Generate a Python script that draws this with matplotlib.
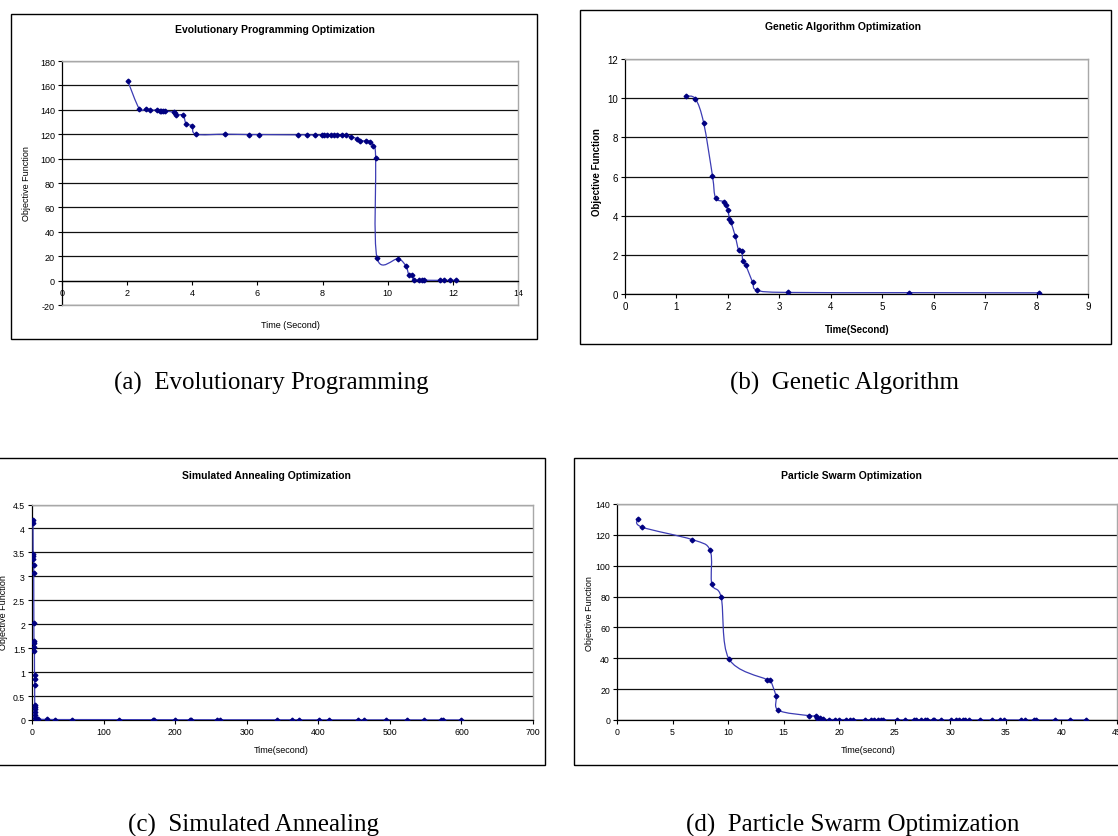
import numpy as np
import matplotlib
matplotlib.use("Agg")
import matplotlib.pyplot as plt
from matplotlib.path import Path
from matplotlib.patches import PathPatch, Rectangle

# ---------------- data ----------------
ep_time = [2.02, 2.37, 2.59, 2.70, 2.93, 3.00, 3.05, 3.10, 3.15, 3.44, 3.47, 3.50, 3.72, 3.81, 4.00, 4.11,
           5.00, 5.74, 6.05, 7.24, 7.53, 7.78, 7.97, 8.05, 8.14, 8.25, 8.35, 8.45, 8.59, 8.71, 8.87,
           9.05, 9.15, 9.32, 9.46, 9.56, 9.63, 9.67, 10.32, 10.56, 10.65, 10.75, 10.80, 10.97, 11.05,
           11.10, 11.60, 11.72, 11.90, 12.10]
ep_obj = [163.6, 141.0, 141.0, 139.5, 140.0, 139.0, 139.0, 139.0, 139.0, 138.0, 137.0, 135.6, 135.6, 128.5,
          126.8, 120.0, 120.0, 119.7, 119.7, 119.5, 119.5, 119.3, 119.3, 119.3, 119.3, 119.2, 119.2, 119.2,
          119.1, 119.0, 118.0, 116.4, 114.8, 114.5, 114.0, 110.4, 100.5, 18.9, 17.8, 11.8, 4.9, 4.9, 0.4,
          0.3, 0.3, 0.3, 0.2, 0.2, 0.2, 0.2]

ga_time = [1.18, 1.37, 1.53, 1.70, 1.76, 1.93, 1.96, 2.00, 2.03, 2.06, 2.14, 2.21, 2.27, 2.29, 2.35,
           2.48, 2.57, 3.17, 5.52, 8.05]
ga_obj = [10.11, 9.96, 8.73, 6.04, 4.92, 4.71, 4.53, 4.29, 3.83, 3.66, 2.98, 2.23, 2.18, 1.67, 1.46,
          0.60, 0.19, 0.08, 0.07, 0.06]

sa_time = [1.2, 1.4, 1.6, 1.8, 2.0, 2.2, 2.4, 2.6, 2.8, 3.0, 3.2, 3.4, 3.5, 3.6, 3.7, 3.8, 3.9, 4.0,
           4.2, 4.4, 4.6, 5.0, 8.0, 21.6, 31.9, 55.5, 121.7, 169.4, 170.5, 200.3, 221.4, 222.5, 258.7,
           262.2, 342.2, 363.8, 373.6, 401.1, 415.3, 456.1, 463.9, 494.8, 524.3, 548.3, 571.4, 574.4, 599.4]
sa_obj = [4.18, 4.12, 3.47, 3.42, 3.37, 3.23, 3.06, 2.03, 1.66, 1.61, 1.52, 1.45, 0.94, 0.85, 0.73,
          0.32, 0.28, 0.22, 0.16, 0.10, 0.04, 0.02, 0.015, 0.012, 0.010, 0.009, 0.008, 0.007, 0.007,
          0.006, 0.006, 0.006, 0.005, 0.005, 0.005, 0.004, 0.004, 0.004, 0.004, 0.003, 0.003, 0.003,
          0.003, 0.002, 0.002, 0.002, 0.002]

pso_time = [1.88, 2.22, 6.78, 8.38, 8.53, 9.38, 10.06, 13.50, 13.78, 14.31, 14.53, 17.31, 17.88, 17.97,
            18.30, 18.50, 19.1, 19.6, 20.0, 20.6, 21.0, 21.2, 22.3, 22.9, 23.1, 23.5, 23.75, 23.9, 25.2,
            25.9, 26.7, 26.9, 27.4, 27.7, 27.9, 28.4, 28.5, 29.2, 30.1, 30.5, 30.8, 31.1, 31.3, 31.7,
            32.7, 33.75, 34.5, 34.8, 36.4, 36.7, 37.5, 37.75, 39.4, 40.8, 42.2]
pso_obj = [130.5, 125.1, 116.9, 110.0, 88.1, 79.4, 39.8, 26.2, 26.2, 15.6, 6.3, 2.8, 2.8, 1.3, 1.1, 0.4,
           0.3, 0.3, 0.3, 0.25, 0.25, 0.25, 0.2, 0.2, 0.2, 0.2, 0.2, 0.2, 0.15, 0.15, 0.15, 0.15, 0.15,
           0.15, 0.15, 0.1, 0.1, 0.1, 0.1, 0.1, 0.1, 0.1, 0.1, 0.1, 0.1, 0.1, 0.1, 0.1, 0.05, 0.05,
           0.05, 0.05, 0.05, 0.05, 0.05]

titles = ["Evolutionary Programming Optimization", "Genetic Algorithm Optimization",
          "Simulated Annealing Optimization", "Particle Swarm Optimization"]
xlabels = ["Time (Second)", "Time(Second)", "Time(second)", "Time(second)"]
ylabel = "Objective Function"
captions = ["(a)  Evolutionary Programming", "(b)  Genetic Algorithm",
            "(c)  Simulated Annealing", "(d)  Particle Swarm Optimization"]

# ---------------- layout ----------------
SANS = "Liberation Sans"
SERIF = "Liberation Serif"
plt.rcParams["font.family"] = [SANS, "DejaVu Sans"]
W, H = 1118, 837
fig = plt.figure(figsize=(W / 100, H / 100), dpi=100)
fig.patch.set_facecolor("white")
LINE_C = "#3C3CB4"
MARK_C = "#000080"


def fx(x):
    return x / W


def fy(y):
    return 1 - y / H


def add_axes_px(x0, y0, x1, y1):
    return fig.add_axes([fx(x0), fy(y1), (x1 - x0) / W, (y1 - y0) / H])


def ftext(x, y, s, **kw):
    kw.setdefault("ha", "center")
    kw.setdefault("va", "center")
    fig.text(fx(x), fy(y), s, **kw)


def box(x0, y0, x1, y1):
    fig.patches.append(Rectangle((fx(x0), fy(y1)), (x1 - x0) / W, (y1 - y0) / H,
                                 transform=fig.transFigure, fill=False, ec="black", lw=1.0))


def smooth(ax, x, y):
    P = np.column_stack([x, y]).astype(float)
    n = len(P)
    verts = [tuple(P[0])]
    codes = [Path.MOVETO]
    for i in range(n - 1):
        p0 = P[i - 1] if i > 0 else P[i]
        p1 = P[i]
        p2 = P[i + 1]
        p3 = P[i + 2] if i + 2 < n else P[i + 1]
        c1 = p1 + (p2 - p0) / 6.0
        c2 = p2 - (p3 - p1) / 6.0
        verts += [tuple(c1), tuple(c2), tuple(p2)]
        codes += [Path.CURVE4] * 3
    ax.add_patch(PathPatch(Path(verts, codes), fc="none", ec=LINE_C, lw=0.9,
                           transform=ax.transData, zorder=3))
    ax.plot(x, y, ls="none", marker="D", ms=2.4, color=MARK_C, mec=MARK_C, zorder=4)


def style(ax, xticks, yticks, fs, fmt="%g"):
    ax.set_xlim(xticks[0], xticks[-1])
    ax.set_ylim(yticks[0], yticks[-1])
    ax.set_xticks(xticks)
    ax.set_yticks(yticks)
    ax.set_xticklabels([fmt % v for v in xticks], fontsize=fs)
    ax.set_yticklabels([fmt % v for v in yticks], fontsize=fs)
    ax.tick_params(direction="out", length=3, width=0.8, pad=2, colors="black", labelsize=fs)
    ax.set_axisbelow(True)
    ax.yaxis.grid(True, color="#111111", lw=0.9)
    for s in ("top", "right"):
        ax.spines[s].set_color("#A8A8A8")
        ax.spines[s].set_linewidth(1.0)
    for s in ("left", "bottom"):
        ax.spines[s].set_color("black")
        ax.spines[s].set_linewidth(0.9)
    ax.set_facecolor("white")


panels = [
    dict(box=(11, 15, 537, 340), plot=(62, 62, 518, 306), title=(275, 30), xl=(290, 326), yl=(27, 184),
         xt=list(range(0, 15, 2)), yt=list(range(-20, 181, 20)), fs=6.5, bold=False,
         x=ep_time, y=ep_obj),
    dict(box=(580, 11, 1111, 345), plot=(625, 60, 1088, 295), title=(843, 27), xl=(857, 330), yl=(597, 172),
         xt=list(range(0, 10)), yt=list(range(0, 13, 2)), fs=7, bold=True,
         x=ga_time, y=ga_obj),
    dict(box=(-2, 459, 545, 766), plot=(32, 505.5, 533, 721), title=(266, 476), xl=(281, 751), yl=(4, 613),
         xt=list(range(0, 701, 100)), yt=[v / 2 for v in range(0, 10)], fs=6.3, bold=False,
         x=sa_time, y=sa_obj),
    dict(box=(574, 459, 1130, 766), plot=(617, 505, 1117, 721), title=(851, 476), xl=(868, 751), yl=(589, 614),
         xt=list(range(0, 46, 5)), yt=list(range(0, 141, 20)), fs=6.3, bold=False,
         x=pso_time, y=pso_obj),
]

for i, p in enumerate(panels):
    box(*p["box"])
    ax = add_axes_px(*p["plot"])
    style(ax, p["xt"], p["yt"], p["fs"])
    smooth(ax, p["x"], p["y"])
    if i == 0:
        ax.spines["bottom"].set_position(("data", 0))
        ax.xaxis.set_tick_params(labelsize=p["fs"], direction="out", length=3, width=0.8, pad=2)
        ax.axhline(p["yt"][0], color="#A8A8A8", lw=1.0, zorder=3, clip_on=False)
    ftext(*p["title"], titles[i], fontsize=7.5, weight="bold")
    ftext(*p["xl"], xlabels[i], fontsize=7 if p["bold"] else 6.5, weight="bold" if p["bold"] else "normal")
    ftext(*p["yl"], ylabel, fontsize=7 if p["bold"] else 6.5, rotation=90,
          weight="bold" if p["bold"] else "normal")

cap_pos = [(271, 390), (845, 390), (254, 832), (853, 832)]
for (cx, cy), c in zip(cap_pos, captions):
    ftext(cx, cy, c, fontsize=18, family=SERIF, va="baseline")

fig.savefig("out.png", dpi=100, facecolor="white")
